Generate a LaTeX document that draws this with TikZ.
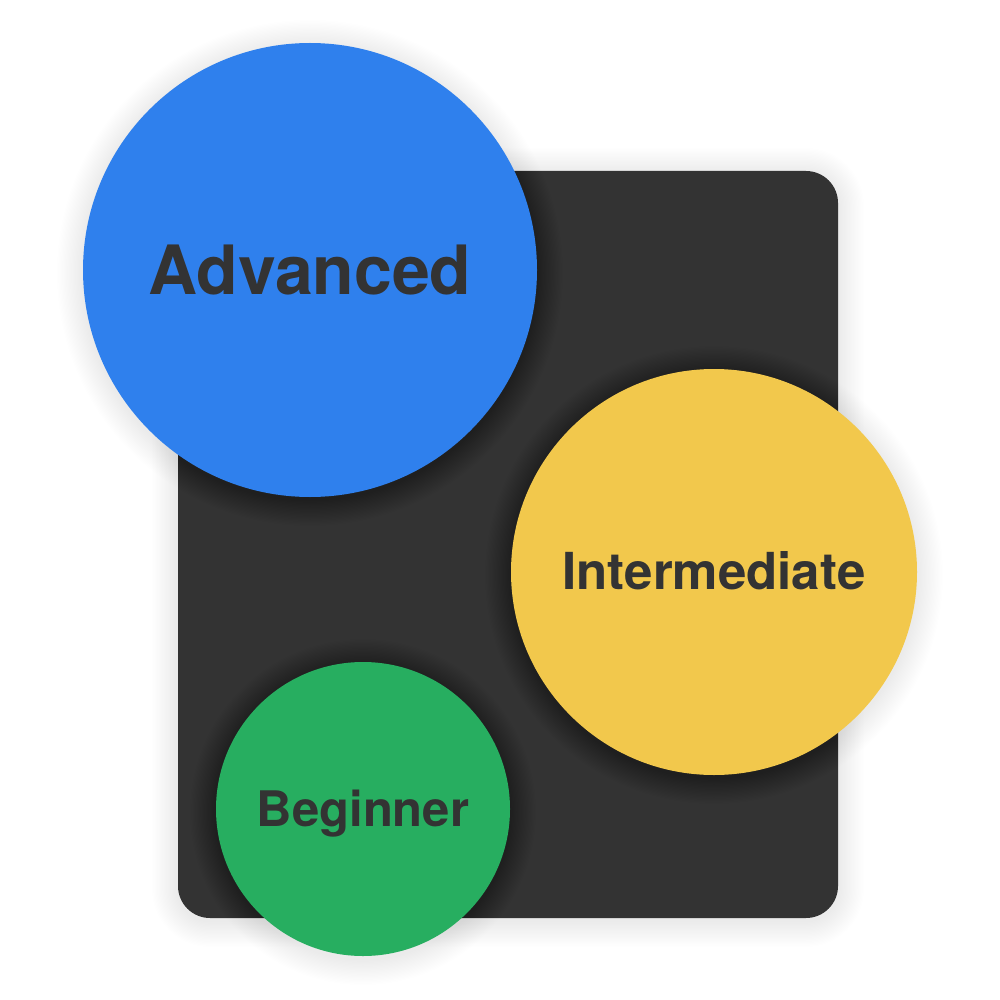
\documentclass[tikz,border=0pt]{standalone}
\usepackage{fontspec}
\setmainfont{TeX Gyre Heros}
\definecolor{panel}{HTML}{333333}
\definecolor{blueC}{HTML}{2F80ED}
\definecolor{yellowC}{HTML}{F2C84C}
\definecolor{greenC}{HTML}{27AE60}
\definecolor{txt}{HTML}{333333}
\tikzset{
  shadelayer/.style={fill=black, fill opacity=0.0048},
  disc/.style={circle, inner sep=0pt, text=txt, text depth=0pt},
}
\newcommand\myshadowcircle[3]{%
  \foreach \k in {1,...,20}{\fill[shadelayer] (#1,#2+3) circle[radius={(#3+\k*1.3)*1pt}];}}
\begin{document}
\begin{tikzpicture}[x=1pt,y=-1pt]
\useasboundingbox[fill=white] (0,0) rectangle (1000,1000);
\foreach \k in {1,...,20}{\fill[shadelayer, rounded corners={(32+\k*1.3)*1pt}] (178-\k*1.3,174-\k*1.3) rectangle (838+\k*1.3,921+\k*1.3);}
\node[fill=panel, rounded corners=32pt, minimum width=660pt, minimum height=747pt, inner sep=0pt] (panel) at (508,544.5) {};
\myshadowcircle{310}{270}{227}
\node[disc, fill=blueC, minimum size=454pt, text height=48pt, font=\bfseries\fontsize{68}{68}\selectfont] (adv) at (310,270) {Advanced};
\myshadowcircle{714}{572}{203}
\node[disc, fill=yellowC, minimum size=406pt, text height=35pt, font=\bfseries\fontsize{51}{51}\selectfont] (int) at (714,572) {Intermediate};
\myshadowcircle{363}{809}{147}
\node[disc, fill=greenC, minimum size=294pt, text height=35pt, font=\bfseries\fontsize{49}{49}\selectfont] (beg) at (363,809) {Beginner};
\end{tikzpicture}
\end{document}
